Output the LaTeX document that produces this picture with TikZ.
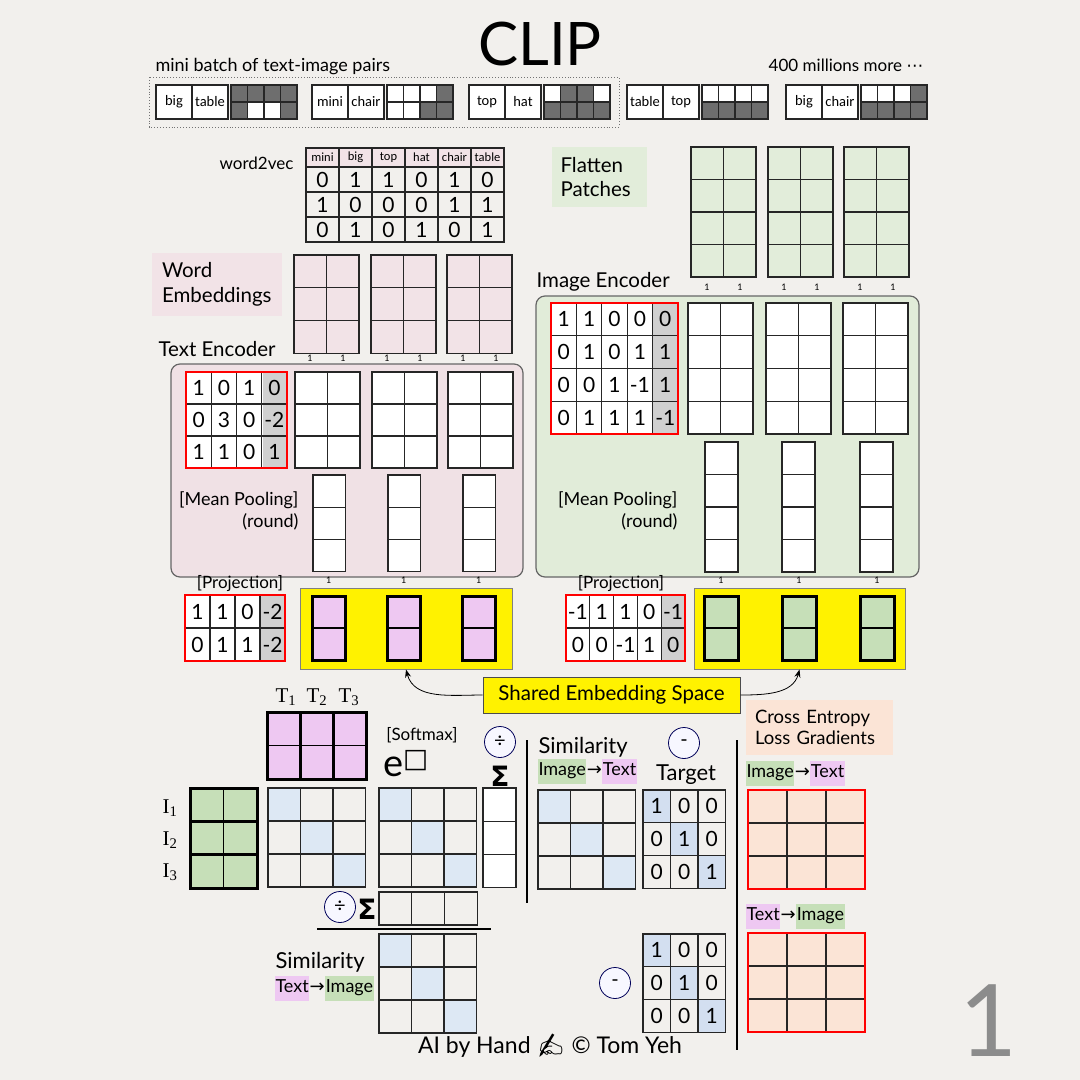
\documentclass[tikz,border=0pt]{standalone}
\usepackage{fontspec}
\setmainfont{Lato}
\newfontfamily\cellfont{Carlito}
\newfontfamily\symfont{DejaVu Sans}
\newfontfamily\seriffont{Liberation Serif}
\newfontfamily\emojifont{Noto Emoji}
\usepackage{xcolor}
\usepackage{tikz}
\usetikzlibrary{arrows.meta,positioning,calc}

\definecolor{paper}{HTML}{F2F0ED}
\definecolor{pinklt}{HTML}{F2E3E7}
\definecolor{pinkbox}{HTML}{F0E1E5}
\definecolor{greenlt}{HTML}{E2EDDA}
\definecolor{greenbox}{HTML}{E1ECD9}
\definecolor{violet}{HTML}{EEC8F2}
\definecolor{leaf}{HTML}{C6DFB8}
\definecolor{peach}{HTML}{FBE4D6}
\definecolor{diag}{HTML}{DDE8F4}
\definecolor{tdiag}{HTML}{D3DFF0}
\definecolor{graycell}{HTML}{D0D0D0}
\definecolor{dk}{HTML}{6E6E6E}
\colorlet{wh}{white}

\begin{document}
\begin{tikzpicture}[x=1pt, y=-1pt,
    f9/.style={font=\fontsize{9}{10}\selectfont},
    f12/.style={font=\cellfont\fontsize{12.5}{13}\selectfont},
    f14/.style={font=\cellfont\fontsize{14.5}{15}\selectfont},
    f17/.style={font=\fontsize{17}{20}\selectfont},
    f18/.style={font=\fontsize{18}{21.5}\selectfont},
    f20/.style={font=\fontsize{20.5}{24.5}\selectfont},
    f22/.style={font=\fontsize{22}{24}\selectfont},
    gcell/.style={draw=black!85, line width=1.1pt},
    numcell/.style={draw=black!85, line width=1.1pt, inner sep=0pt, outer sep=0pt, font=\fontsize{21}{21}\selectfont},
    wordcell/.style={draw=black!85, line width=1.1pt, fill=white, inner sep=0pt, outer sep=0pt, minimum width=36pt, minimum height=34pt, f14},
    encbox/.style={draw=black!60, line width=1.2pt, rounded corners=9pt},
    redbox/.style={draw=red, line width=2.6pt},
    ybox/.style={draw=black!50, fill=yellow, line width=1pt, inner sep=0pt},
    labelbox/.style={inner sep=0pt, align=left, f20},
    tag/.style={f18, inner xsep=0.5pt, inner ysep=4pt, text height=13pt, text depth=4pt, outer sep=0pt},
    opcirc/.style={circle, draw=blue!35!black, fill=blue!3, line width=0.8pt, minimum size=31pt, inner sep=0pt, font=\fontsize{20}{20}\selectfont},
    sigma/.style={font=\symfont\bfseries\fontsize{28}{28}\selectfont, inner sep=0pt},
    onelbl/.style={f9, inner sep=1pt},
    arr/.style={-{Stealth[length=8pt]}, line width=0.8pt}
]
\fill[paper] (0,0) rectangle (1080,1080);
\useasboundingbox (0,0) rectangle (1080,1080);

% title and mini batch
\node[font=\fontsize{60}{60}\selectfont] (title) at (540,44) {CLIP};
\node[f18, anchor=west] (mb-lbl) at (152,67) {mini batch of text-image pairs};
\node[f17, anchor=east] (more-lbl) at (927,65) {400 millions more {\symfont ⋯}};
\draw[black!55, line width=0.9pt, dotted] (149,77) rectangle (619,127);
\foreach \px/\wa/\wb/\pat [count=\p] in {156/big/table/{dk,dk,dk,dk,dk,wh,wh,dk},
    312/mini/chair/{wh,wh,wh,dk,wh,wh,dk,dk}, 469/top/hat/{wh,dk,dk,wh,dk,dk,dk,dk},
    627/table/top/{wh,wh,wh,wh,dk,dk,dk,dk}, 786/big/chair/{wh,wh,wh,dk,dk,dk,dk,dk}} {
  \node[wordcell] (pair\p-a) at (\px+18,102) {\wa};
  \node[wordcell, right=0pt of pair\p-a] (pair\p-b) {\wb};
  \foreach \d [count=\k from 0] in \pat {
    \pgfmathtruncatemacro{\cc}{mod(\k,4)}
    \pgfmathtruncatemacro{\rr}{int(\k/4)}
    \filldraw[gcell, fill=\d] (\px+75+16.5*\cc,85+17*\rr) rectangle +(16.5,17);
  }
}

% word2vec
\node[f17, anchor=east] (w2v-lbl) at (297,163) {word2vec};
\foreach \w [count=\c from 0] in {mini,big,top,hat,chair,table}
  \node[numcell, fill=pinklt, f12, minimum width=33pt, minimum height=19pt] (w2v-h\c) at (322.5+33*\c,157.5) {\w};
\foreach \row [count=\r from 0] in {{0,1,1,0,1,0},{1,0,0,0,1,1},{0,1,0,1,0,1}}
  \foreach \v [count=\c from 0] in \row
    \node[numcell, minimum width=33pt, minimum height=25pt] (w2v-\r-\c) at (322.5+33*\c,179.5+25*\r) {\v};

% word embeddings
\node[labelbox, fill=pinklt, minimum width=130pt, minimum height=63pt, text width=110pt] (we-lbl) at (217,284.5) {Word\\Embeddings};
\foreach \gx [count=\g] in {294,371,447} {
  \foreach \c in {0,1} \foreach \r in {0,1,2}
    \filldraw[gcell, fill=pinklt] (\gx+32.5*\c,255+32.7*\r) rectangle +(32.5,32.7);
  \node[onelbl] (we\g-one-a) at (\gx+16,358) {1};
  \node[onelbl] (we\g-one-b) at (\gx+49,358) {1};
}

% text encoder
\node[f20, anchor=west] (te-lbl) at (155,349) {Text Encoder};
\draw[encbox, fill=pinkbox] (171,364) rectangle (523,577);
\fill[white] (186,372) rectangle (287,468);
\fill[graycell] (262.75,372) rectangle (287,468);
\foreach \row [count=\r from 0] in {{1,0,1,0},{0,3,0,-2},{1,1,0,1}}
  \foreach \v [count=\c from 0] in \row
    \node[numcell, minimum width=25.25pt, minimum height=32pt] (tw-\r-\c) at (198.6+25.25*\c,388+32*\r) {\v};
\draw[redbox] (186,372) rectangle (287,468);
\foreach \gx in {295,372,448}
  \foreach \c in {0,1} \foreach \r in {0,1,2}
    \filldraw[gcell, fill=white] (\gx+32.5*\c,372+32*\r) rectangle +(32.5,32);
\node[f18, align=right, anchor=east] (te-mp) at (302,511) {[Mean Pooling]\\(round)};
\foreach \gx in {313,388,463}
  \foreach \r in {0,1,2}
    \filldraw[gcell, fill=white] (\gx,475+32.3*\r) rectangle +(32.5,32.3);

% flatten patches
\node[labelbox, fill=greenlt, minimum width=95pt, minimum height=60pt, text width=78pt] (fp-lbl) at (599.5,177) {Flatten\\Patches};
\foreach \gx [count=\g] in {691,768,844} {
  \foreach \c in {0,1} \foreach \r in {0,1,2,3}
    \filldraw[gcell, fill=greenlt] (\gx+32.5*\c,147+32.5*\r) rectangle +(32.5,32.5);
  \node[onelbl] (fp\g-one-a) at (\gx+16,287) {1};
  \node[onelbl] (fp\g-one-b) at (\gx+49,287) {1};
}

% image encoder
\node[f20, anchor=west] (ie-lbl) at (533,282) {Image Encoder};
\draw[encbox, fill=greenbox] (536,296) rectangle (919,577);
\fill[white] (551,303) rectangle (678,434);
\fill[graycell] (652.6,303) rectangle (678,434);
\foreach \row [count=\r from 0] in {{1,1,0,0,0},{0,1,0,1,1},{0,0,1,-1,1},{0,1,1,1,-1}}
  \foreach \v [count=\c from 0] in \row
    \node[numcell, minimum width=25.4pt, minimum height=32.75pt] (iw-\r-\c) at (563.7+25.4*\c,319.4+32.75*\r) {\v};
\draw[redbox] (551,303) rectangle (678,434);
\foreach \gx in {688,766,843}
  \foreach \c in {0,1} \foreach \r in {0,1,2,3}
    \filldraw[gcell, fill=white] (\gx+32.5*\c,303+32.75*\r) rectangle +(32.5,32.75);
\node[f18, align=right, anchor=east] (ie-mp) at (681,511) {[Mean Pooling]\\(round)};
\foreach \gx in {705,782,860}
  \foreach \r in {0,1,2,3}
    \filldraw[gcell, fill=white] (\gx,442+32.5*\r) rectangle +(33,32.5);

% projections
\node[f17] (tp-lbl) at (240,584) {[Projection]};
\fill[white] (185,595) rectangle (285,661);
\fill[graycell] (260,595) rectangle (285,661);
\foreach \row [count=\r from 0] in {{1,1,0,-2},{0,1,1,-2}}
  \foreach \v [count=\c from 0] in \row
    \node[numcell, minimum width=25pt, minimum height=33pt] (tp-\r-\c) at (197.5+25*\c,611.5+33*\r) {\v};
\draw[redbox] (185,595) rectangle (285,661);
\node[ybox, minimum width=212pt, minimum height=81pt] (tproj) at (406,628.5) {};
\foreach \gx [count=\g] in {312,387,462} {
  \filldraw[fill=violet, draw=black, line width=3pt] (\gx,596) rectangle +(33.5,64);
  \draw[line width=1.2pt] (\gx,628) -- +(33.5,0);
  \node[onelbl] (tp-one\g) at (\gx+16.75,580) {1};
}

\node[f17] (ip-lbl) at (621,584) {[Projection]};
\fill[white] (566,595) rectangle (685,661);
\fill[graycell] (661.2,595) rectangle (685,661);
\foreach \row [count=\r from 0] in {{-1,1,1,0,-1},{0,0,-1,1,0}}
  \foreach \v [count=\c from 0] in \row
    \node[numcell, minimum width=23.8pt, minimum height=33pt] (ip-\r-\c) at (577.9+23.8*\c,611.5+33*\r) {\v};
\draw[redbox] (566,595) rectangle (685,661);
\node[ybox, minimum width=211pt, minimum height=81pt] (iproj) at (799.5,628.5) {};
\foreach \gx [count=\g] in {704,782,860} {
  \filldraw[fill=leaf, draw=black, line width=3pt] (\gx,596) rectangle +(34,64);
  \draw[line width=1.2pt] (\gx,628) -- +(34,0);
  \node[onelbl] (ip-one\g) at (\gx+17,580) {1};
}

% shared embedding space
\node[ybox, draw=black!70, font=\fontsize{20.5}{21}\selectfont, minimum width=257pt, minimum height=36pt] (shared) at (611.5,695) {Shared Embedding Space};
\draw[arr] (shared.west) to[out=180, in=-75] (tproj.south);
\draw[arr] (shared.east) to[out=0, in=-105] (iproj.south);

% similarity (image -> text)
\foreach \t [count=\c] in {286,317,349}
  \node[font=\seriffont\fontsize{21}{21}\selectfont] (t\c) at (\t,697) {T\textsubscript{\c}};
\fill[violet] (267,712) rectangle (366,779);
\draw[line width=1.2pt] (267,745.5) -- (366,745.5);
\draw[line width=3pt] (267,712) rectangle (366,779) (300,712) -- (300,779) (333,712) -- (333,779);
\foreach \iy [count=\r] in {808,840,872}
  \node[font=\seriffont\fontsize{21}{21}\selectfont] (i\r) at (170,\iy) {I\textsubscript{\r}};
\fill[leaf] (190,788) rectangle (257,888);
\draw[line width=1.2pt] (223.5,788) -- (223.5,888);
\draw[line width=3pt] (190,788) rectangle (257,888) (190,821.3) -- (257,821.3) (190,854.7) -- (257,854.7);

\foreach \gx/\gy in {268/788, 379/788, 538/790, 379/934} {
  \foreach \k in {0,1,2} \fill[diag] (\gx+32.5*\k,\gy+33*\k) rectangle +(32.5,33);
  \foreach \i in {0,1,2} \foreach \j in {0,1,2} \draw[gcell] (\gx+32.5*\i,\gy+33*\j) rectangle +(32.5,33);
}
\node[f17] (sm-lbl) at (422,735) {[Softmax]};
\node[font=\fontsize{38}{38}\selectfont, inner sep=0pt] (expo) at (406,764) {e\textsuperscript{\symfont □}};
\node[opcirc] (div1) at (500,742) {÷};
\node[sigma] (sum1) at (500,776) {Σ};
\foreach \r in {0,1,2}
  \filldraw[gcell, fill=white] (483,788+33.3*\r) rectangle +(33,33.3);
\draw[line width=1.5pt] (527,740) -- (527,903);

\node[f22, anchor=west] (sit-lbl) at (535,747) {Similarity};
\node[tag, fill=leaf, anchor=west] (sit-img) at (538,771) {Image};
\node[tag, right=0pt of sit-img] (sit-arr) {\symfont →};
\node[tag, fill=violet, right=0pt of sit-arr] (sit-txt) {Text};

% target
\node[opcirc] (minus1) at (684,743) {-};
\node[f22] (tg-lbl) at (686,775) {Target};
\foreach \gy [count=\g] in {790,934} {
  \foreach \k in {0,1,2} \fill[tdiag] (643+27.5*\k,\gy+32.7*\k) rectangle +(27.5,32.7);
  \foreach \row [count=\r from 0] in {{1,0,0},{0,1,0},{0,0,1}}
    \foreach \v [count=\c from 0] in \row
      \node[numcell, minimum width=27.5pt, minimum height=32.7pt] (tg\g-\r-\c) at (656.75+27.5*\c,\gy+16.35+32.7*\r) {\v};
}
\draw[line width=1.5pt] (737,740) -- (737,1050);

% cross entropy loss gradients
\node[labelbox, font=\fontsize{18.5}{21}\selectfont, fill=peach, minimum width=147pt, minimum height=55pt, text width=129pt] (ce-lbl) at (819.5,727.5) {Cross Entropy\\Loss Gradients};
\node[tag, fill=leaf, anchor=west] (ce-img) at (746,773) {Image};
\node[tag, right=0pt of ce-img] (ce-arr) {\symfont →};
\node[tag, fill=violet, right=0pt of ce-arr] (ce-txt) {Text};
\node[tag, fill=violet, anchor=west] (ce2-txt) at (746,916) {Text};
\node[tag, right=0pt of ce2-txt] (ce2-arr) {\symfont →};
\node[tag, fill=leaf, right=0pt of ce2-arr] (ce2-img) {Image};
\foreach \gy in {790,933} {
  \fill[peach] (748,\gy) rectangle +(117,99);
  \foreach \i in {0,1,2} \foreach \j in {0,1,2} \draw[gcell] (748+39*\i,\gy+33*\j) rectangle +(39,33);
  \draw[redbox] (748,\gy) rectangle +(117,99);
}

% similarity (text -> image)
\node[opcirc] (div2) at (340,907) {÷};
\node[sigma] (sum2) at (367,909) {Σ};
\foreach \c in {0,1,2}
  \draw[gcell] (379+32.7*\c,892) rectangle +(32.7,33);
\draw[line width=1.5pt] (317,929) -- (491,929);
\node[f22, anchor=west] (sti-lbl) at (272,962) {Similarity};
\node[tag, fill=violet, anchor=west] (sti-txt) at (275,988) {Text};
\node[tag, right=0pt of sti-txt] (sti-arr) {\symfont →};
\node[tag, fill=leaf, right=0pt of sti-arr] (sti-img) {Image};
\node[opcirc] (minus2) at (615,983) {-};

% footer
\node[font=\fontsize{23}{23}\selectfont] (credit) at (550,1046) {AI by Hand {\emojifont ✍} © Tom Yeh};
\node[font=\fontsize{100}{100}\selectfont, text=black!45, inner sep=0pt, text depth=0pt] (pagenum) at (988,1021) {1};
\end{tikzpicture}
\end{document}
